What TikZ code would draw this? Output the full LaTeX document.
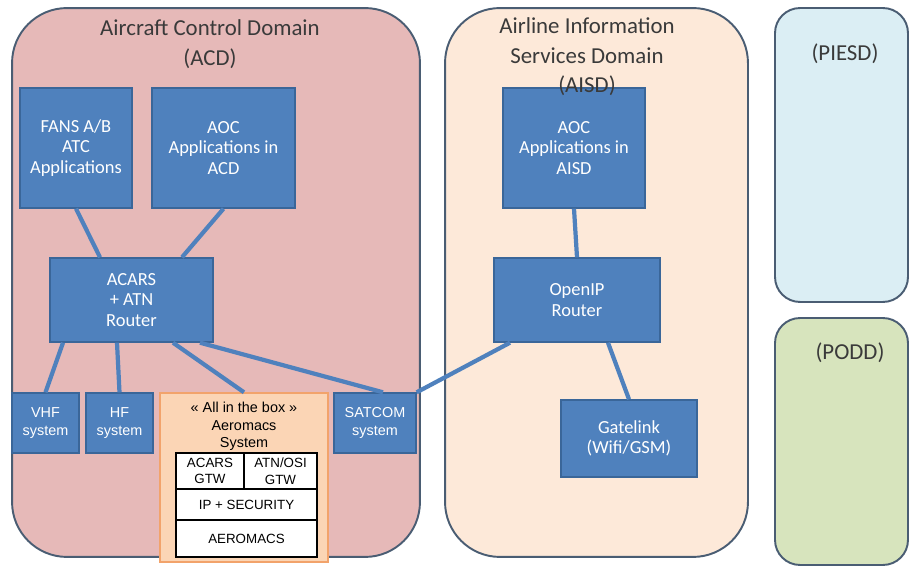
\documentclass[tikz,border=0pt]{standalone}
\usepackage{fontspec}
\setmainfont{Carlito}
\newfontfamily\arialfont{Liberation Sans}

\definecolor{acdPink}{HTML}{E6B9B8}
\definecolor{aisdPeach}{HTML}{FDE9D9}
\definecolor{piesdBlue}{HTML}{DBEEF4}
\definecolor{poddGreen}{HTML}{D7E4BD}
\definecolor{zoneEdge}{HTML}{4A5D73}
\definecolor{titleGray}{HTML}{3A3A3A}
\definecolor{boxBlue}{HTML}{4F81BD}
\definecolor{boxEdge}{HTML}{3A6699}
\definecolor{aeroFill}{HTML}{FBD5B5}
\definecolor{aeroEdge}{HTML}{F2A36B}

\begin{document}
\begin{tikzpicture}[x=0.02cm, y=-0.02cm]

% definitions
\tikzstyle{zone} = [rectangle, rounded corners=1.1cm, draw=zoneEdge, line width=1.1pt]

\tikzstyle{zonetitle} = [text centered, align=center, text=titleGray, inner sep=0pt, font=\fontsize{13}{17}\selectfont]

\tikzstyle{app} = [rectangle, draw=boxEdge, fill=boxBlue, line width=0.8pt, text=white, align=center, font=\fontsize{10.5}{11.8}\selectfont]

\tikzstyle{radio} = [app, font=\arialfont\fontsize{8.2}{10}\selectfont]

\tikzstyle{cell} = [rectangle, draw=black, fill=white, line width=1.2pt, align=center, inner sep=0pt, font=\arialfont\fontsize{7.6}{9.5}\selectfont]

\tikzstyle{link} = [draw=boxBlue, line width=2.4pt]

\useasboundingbox (0,0) rectangle (910,567);

% the domains
\node (acd) [zone, fill=acdPink, minimum width=8.16cm, minimum height=10.98cm] at (216,282.5) {};
\node (aisd) [zone, fill=aisdPeach, minimum width=6.06cm, minimum height=10.98cm] at (596.5,282.5) {};
\node (piesd) [zone, rounded corners=0.5cm, fill=piesdBlue, minimum width=2.66cm, minimum height=5.88cm] at (841.5,155) {};
\node (podd) [zone, rounded corners=0.5cm, fill=poddGreen, minimum width=2.66cm, minimum height=4.94cm] at (841.5,441.5) {};

\node (acdtitle) [zonetitle, anchor=north] at (210,19) {Aircraft Control Domain\\(ACD)};
\node (piesdtitle) [zonetitle] at (845,54) {(PIESD)};
\node (poddtitle) [zonetitle] at (850,353) {(PODD)};

% the graph
\node (fans) [app, minimum width=2.24cm, minimum height=2.4cm] at (76,148) {FANS A/B\\ATC\\Applications};
\node (aocacd) [app, minimum width=2.86cm, minimum height=2.4cm] at (223.5,148) {AOC\\Applications in\\ACD};
\node (router) [app, minimum width=3.26cm, minimum height=1.68cm] at (131.5,300) {ACARS\\+ ATN\\Router};

\node (vhf) [radio, minimum width=1.34cm, minimum height=1.2cm] at (45.5,423) {VHF\\system};
\node (hf) [radio, minimum width=1.34cm, minimum height=1.2cm] at (119.5,423) {HF\\system};
\node (satcom) [radio, minimum width=1.64cm, minimum height=1.2cm] at (375,423) {SATCOM\\system};

\node (aerobox) [rectangle, draw=aeroEdge, fill=aeroFill, line width=0.8pt, minimum width=3.36cm, minimum height=3.38cm] at (244,477.5) {};
\node (aerotitle) [anchor=north, align=center, inner sep=0pt, font=\arialfont\fontsize{8.2}{10}\selectfont] at (244,402) {« All in the box »\\Aeromacs\\System};

\node (acarsgtw) [cell, minimum width=1.36cm, minimum height=0.72cm] at (210,471) {ACARS\\GTW};
\node (atngtw) [cell, minimum width=1.46cm, minimum height=0.72cm] at (280.5,471) {ATN/OSI\\GTW};
\node (ipsec) [cell, minimum width=2.82cm, minimum height=0.62cm] at (246.5,504.5) {IP + SECURITY};
\node (aeromacs) [cell, minimum width=2.82cm, minimum height=0.74cm] at (246.5,538.5) {AEROMACS};

\node (aocaisd) [app, minimum width=2.84cm, minimum height=2.4cm] at (574,148) {AOC\\Applications in\\AISD};
\node (openip) [app, minimum width=3.32cm, minimum height=1.68cm] at (577,300) {OpenIP\\Router};
\node (gatelink) [app, minimum width=2.72cm, minimum height=1.54cm] at (629,438.5) {Gatelink\\(Wifi/GSM)};

% title over the top edge of the AISD box
\node (aisdtitle) [zonetitle, anchor=north] at (587,17) {Airline Information\\Services Domain\\(AISD)};


\draw [link] (fans.south) -- ([xshift=-0.63cm]router.north);
\draw [link] (aocacd.south) -- ([xshift=1.01cm]router.north);
\draw [link] ([xshift=-1.37cm]router.south) -- (vhf.north);
\draw [link] ([xshift=-0.29cm]router.south) -- (hf.north);
\draw [link] ([xshift=0.83cm]router.south) -- (aerobox.north);
\draw [link] ([xshift=1.37cm]router.south) -- ([xshift=0.16cm]satcom.north);
\draw [link] (satcom.north east) -- ([xshift=-1.34cm]openip.south);
\draw [link] (aocaisd.south) -- (openip.north);
\draw [link] ([xshift=0.62cm]openip.south) -- (gatelink.north);

\end{tikzpicture}
\end{document}
